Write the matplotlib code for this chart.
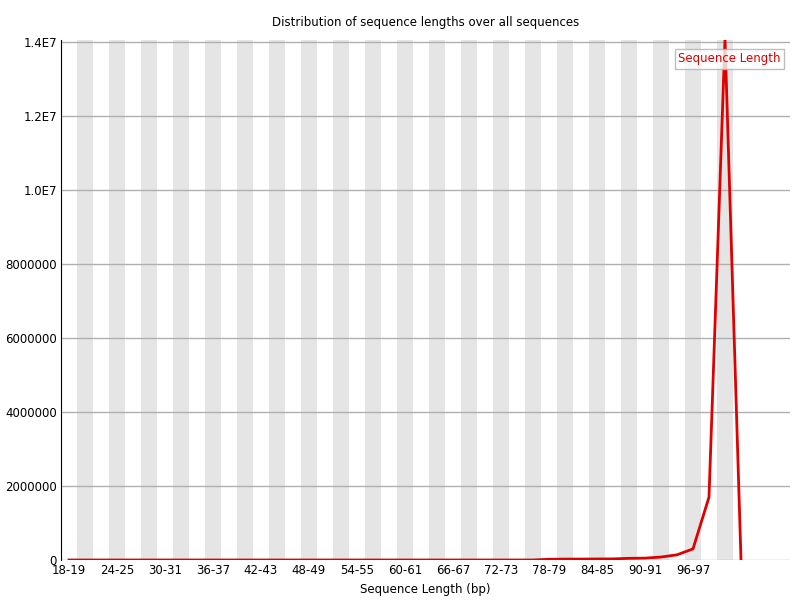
import matplotlib
matplotlib.use('Agg')
import matplotlib.pyplot as plt

# categories 18-19 ... 102-103
starts = list(range(18, 104, 2))
categories = ['%d-%d' % (s, s + 1) for s in starts]
counts = [0]*30 + [20000, 25000, 25000, 28000, 30000, 45000, 50000, 80000, 140000,
                   300000, 1700000, 14100000, 0]
counts = counts[:len(categories)]

fig = plt.figure(figsize=(8, 6), dpi=100)
ax = fig.add_axes([61/800, 40/600, (790-61)/800, (560-40)/600])

n = len(categories)
for i in range(1, n - 1, 2):
    ax.axvspan(i - 0.5, i + 0.5, color='#e5e5e5', lw=0, zorder=0)
for y in range(2000000, 14000001, 2000000):
    ax.axhline(y, color='#b0b0b0', lw=1, zorder=1)
ax.axhline(0, color='#b0b0b0', lw=1, zorder=1)

ax.plot(range(n), counts, color='#e00000', lw=2, zorder=3, label='Sequence Length')

ax.set_xlim(-0.5, (790-61)/16 - 0.5)
ax.set_ylim(0, 14000000 * 1.004)
ax.set_xticks(range(0, n - 1, 3))
ax.set_xticklabels(categories[:n - 1:3], fontsize=8.5)
yt = list(range(0, 14000001, 2000000))
ylab = ['0', '2000000', '4000000', '6000000', '8000000', '1.0E7', '1.2E7', '1.4E7']
ax.set_yticks(yt)
ax.set_yticklabels(ylab, fontsize=8.5)
ax.tick_params(length=0, pad=3)
for s in ['top', 'right', 'bottom']:
    ax.spines[s].set_visible(False)
ax.spines['left'].set_color('black')
ax.set_xlabel('Sequence Length (bp)', fontsize=8.5, labelpad=4)
ax.set_title('Distribution of sequence lengths over all sequences', fontsize=8.5, pad=10)

leg = ax.legend(loc='upper right', handlelength=0, handletextpad=0, fontsize=8.5,
                frameon=True, fancybox=False, borderpad=0.3, bbox_to_anchor=(1.0, 0.995))
leg.get_frame().set_edgecolor('#b0b0b0')
for t in leg.get_texts():
    t.set_color('#e00000')
for h in leg.legend_handles:
    h.set_visible(False)

fig.savefig('out.png', dpi=100)
